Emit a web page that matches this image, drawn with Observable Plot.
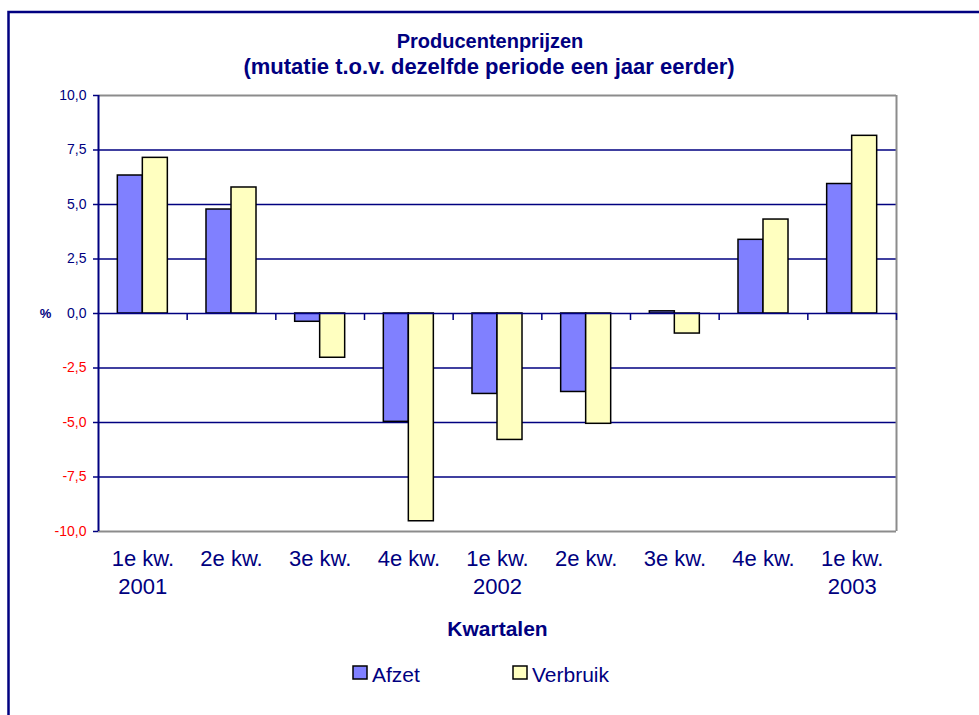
<!DOCTYPE html>
<html><head><meta charset="utf-8">
<script src="https://cdn.jsdelivr.net/npm/d3@7"></script>
<script src="https://cdn.jsdelivr.net/npm/@observablehq/plot@0.6"></script>
<style>body{margin:0;background:#fff} #chart{width:979px;height:715px}</style>
</head><body><div id="chart"></div>
<script>
const quarters = ["2001-1","2001-2","2001-3","2001-4","2002-1","2002-2","2002-3","2002-4","2003-1"];
const quarterLabels = ["1e kw.","2e kw.","3e kw.","4e kw.","1e kw.","2e kw.","3e kw.","4e kw.","1e kw."];
const yearLabels = ["2001","","","","2002","","","","2003"];
const afzet = [6.33, 4.77, -0.38, -4.97, -3.69, -3.6, 0.1, 3.38, 5.94];
const verbruik = [7.14, 5.78, -2.03, -9.53, -5.8, -5.06, -0.92, 4.31, 8.15];
const yTicks = [-10, -7.5, -5, -2.5, 0, 2.5, 5, 7.5, 10];
const seriesNames = ["Afzet", "Verbruik"];
const seriesColors = ["#8080FF", "#FFFFC0"];
const titleLines = ["Producentenprijzen", "(mutatie t.o.v. dezelfde periode een jaar eerder)"];
const xTitle = "Kwartalen";
const yTitle = "%";

const W = 979, H = 715;
const mL = 98, mR = 83, mT = 95, mB = 184;
const step = (W - mL - mR) / quarters.length;
const pIn = 0.436, pOut = 0.218;
const bw = step * (1 - pIn);
const navy = "#000080";
const font = "'Liberation Sans', Arial, sans-serif";
const fmt = v => v.toFixed(1).replace(".", ",");

const data = quarters.map((q, i) => ({q, afzet: afzet[i], verbruik: verbruik[i], ql: quarterLabels[i], yl: yearLabels[i]}));

const plot = Plot.plot({
  width: W, height: H, marginLeft: mL, marginRight: mR, marginTop: mT, marginBottom: mB,
  style: {fontFamily: font, background: "white", overflow: "visible"},
  x: {type: "band", domain: quarters, paddingInner: pIn, paddingOuter: pOut, round: false, axis: null},
  y: {domain: [-10, 10], axis: null},
  marks: [
    Plot.ruleY(yTicks.filter(v => v > -10 && v < 10 && v !== 0), {stroke: navy, strokeWidth: 1.5}),
    Plot.ruleY([10, -10], {stroke: "#8c8c8c", strokeWidth: 2}),
    Plot.ruleX([quarters[quarters.length - 1]], {dx: step / 2, stroke: "#8c8c8c", strokeWidth: 2}),
    Plot.barY(data, {x: "q", y: "afzet", fill: seriesColors[0], stroke: "black", strokeWidth: 1.5, insetRight: bw / 2}),
    Plot.barY(data, {x: "q", y: "verbruik", fill: seriesColors[1], stroke: "black", strokeWidth: 1.5, insetLeft: bw / 2}),
    Plot.ruleY([0], {stroke: navy, strokeWidth: 1.5}),
    Plot.ruleX(quarters, {dx: step / 2, y1: 0, y2: 0, insetBottom: -7, stroke: navy, strokeWidth: 1.5}),
    Plot.ruleY(yTicks, {stroke: navy, strokeWidth: 1.5, insetLeft: -5, insetRight: W - mL - mR}),
    Plot.ruleX([quarters[0]], {dx: -step / 2, stroke: navy, strokeWidth: 2}),
    Plot.text(yTicks.filter(v => v >= 0), {y: d => d, text: fmt, frameAnchor: "left", textAnchor: "end", dx: -12, fill: navy, fontSize: 14}),
    Plot.text(yTicks.filter(v => v < 0), {y: d => d, text: fmt, frameAnchor: "left", textAnchor: "end", dx: -12, fill: "red", fontSize: 14}),
    Plot.text([yTitle], {y: 0, text: d => d, frameAnchor: "left", textAnchor: "middle", dx: -53, fill: navy, fontSize: 13, fontWeight: "bold"}),
    Plot.text(data, {x: "q", text: "ql", frameAnchor: "bottom", dy: 34, fill: navy, fontSize: 22}),
    Plot.text(data, {x: "q", text: "yl", frameAnchor: "bottom", dy: 62, fill: navy, fontSize: 22})
  ]
});

const svg = d3.select(plot);
svg.append("path").attr("d", `M8.5,${H} V12 H${W}`).attr("fill", "none").attr("stroke", navy).attr("stroke-width", 2.5);
const tx = svg.append("g").attr("font-family", font).attr("fill", navy).attr("text-anchor", "middle").attr("font-weight", "bold");
tx.append("text").attr("x", 490).attr("y", 47.5).attr("font-size", 20).text(titleLines[0]);
tx.append("text").attr("x", 489).attr("y", 74).attr("font-size", 22).text(titleLines[1]);
tx.append("text").attr("x", 497.5).attr("y", 636).attr("font-size", 21).text(xTitle);

const leg = svg.append("g").attr("font-family", font).attr("font-size", 21).attr("fill", navy).attr("text-anchor", "start");
const legX = [353, 513];
seriesNames.forEach((n, i) => {
  leg.append("rect").attr("x", legX[i]).attr("y", 666).attr("width", 14).attr("height", 13)
    .attr("fill", seriesColors[i]).attr("stroke", "black").attr("stroke-width", 1.5);
  leg.append("text").attr("x", legX[i] + 19).attr("y", 682).text(n);
});

document.getElementById("chart").appendChild(plot);
</script>
</body></html>
